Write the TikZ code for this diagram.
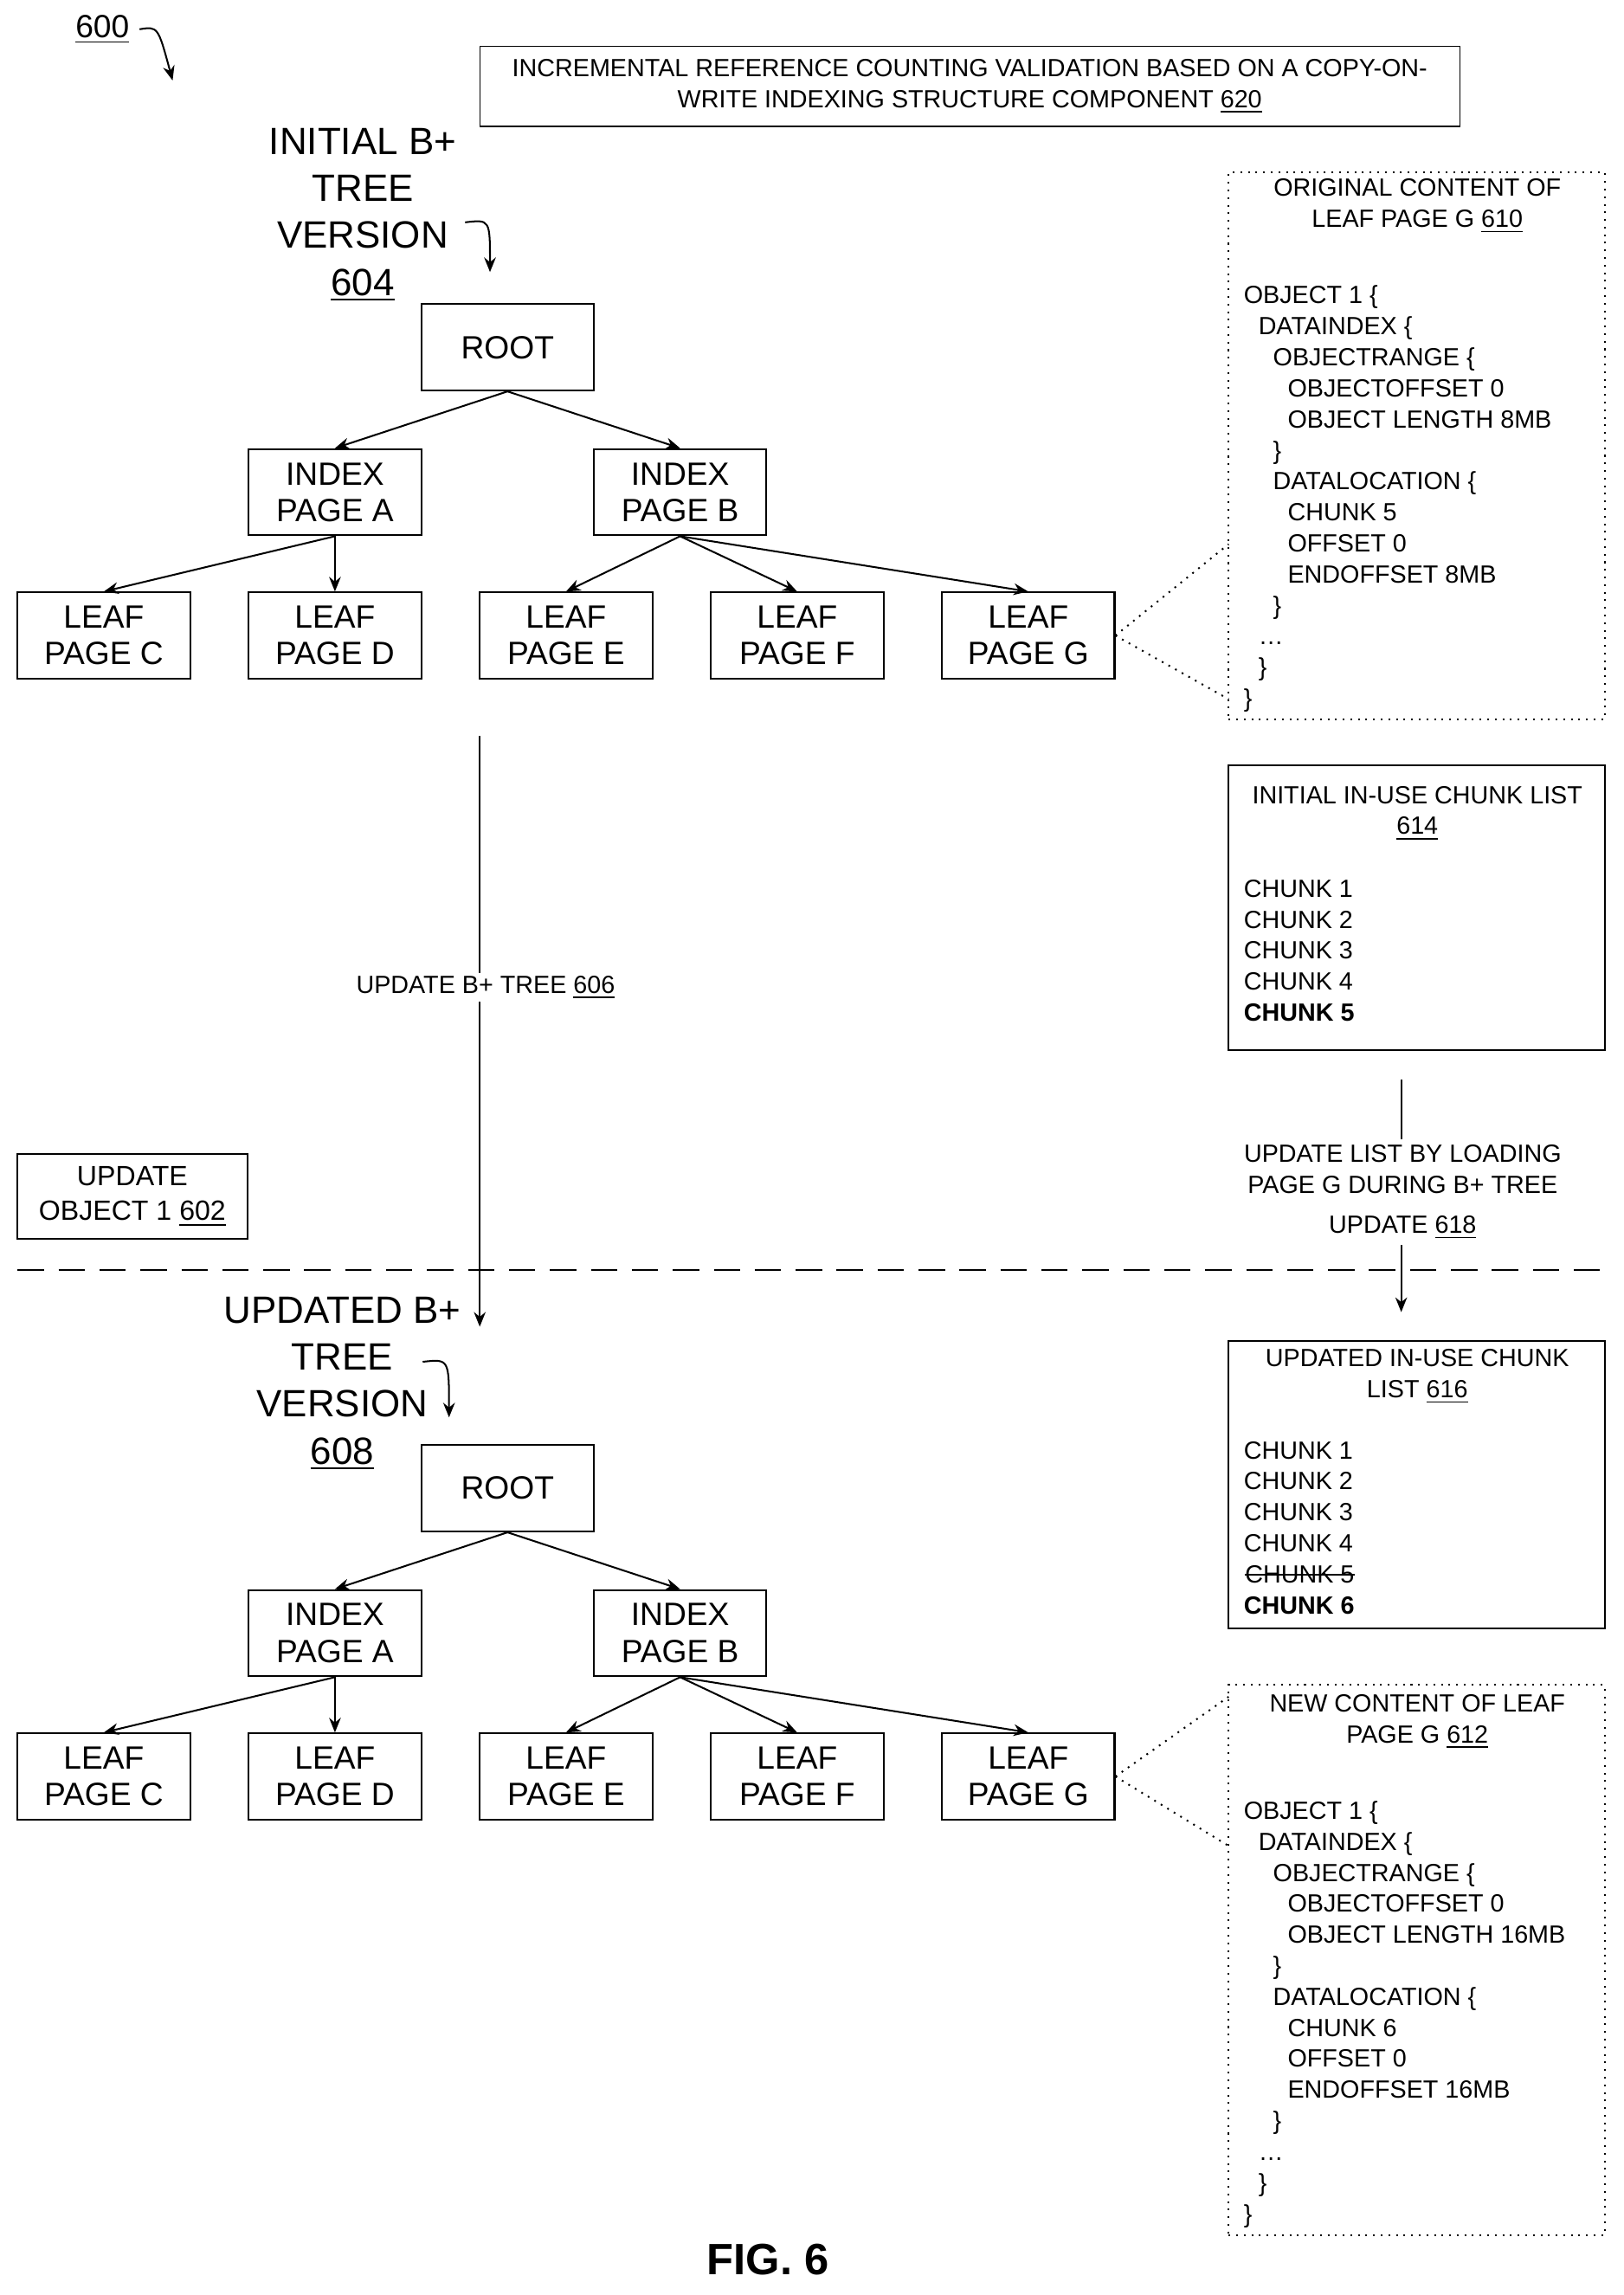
\documentclass[tikz,border=0pt]{standalone}
\usepackage{fontspec}
\setmainfont{Liberation Sans}
\usetikzlibrary{arrows.meta}
\newcommand{\mystrike}[1]{\tikz[baseline=(s.base)]{\node[inner sep=0pt](s){#1};\draw[line width=0.5pt]([yshift=0.33em]s.base west)--([yshift=0.33em]s.base east);}}
\begin{document}
\begin{tikzpicture}[x=0.5pt,y=-0.5pt,
  box/.style={draw,line width=0.6pt,minimum width=59pt,minimum height=29.5pt,inner sep=0pt,align=center,font=\fontsize{11}{12.5}\selectfont},
  sm/.style={font=\fontsize{8.5}{10.6}\selectfont},
  big/.style={font=\fontsize{13}{16}\selectfont,align=center},
  edge/.style={line width=0.6pt,-{Stealth[length=5pt,width=4pt]}},
  dot/.style={dotted,line width=0.6pt},
  txt/.style={sm,anchor=north west,align=left,inner sep=0pt}]
\useasboundingbox (0,0) rectangle (1110,1569);
% header
\node[font=\fontsize{11}{12}\selectfont] (n600) at (70,20) {\underline{600}};
\coordinate (n600e) at (118,55);
\draw[edge] (n600.east) .. controls (108,18) .. (n600e);
\node[draw,sm,align=center,minimum width=335pt,minimum height=27.5pt,inner sep=0pt] (title) at (663,59) {INCREMENTAL REFERENCE COUNTING VALIDATION BASED ON A COPY-ON-\\WRITE INDEXING STRUCTURE COMPONENT \underline{620}};
% tree 1 label
\node[big] (t1) at (248,147) {INITIAL B+\\TREE\\VERSION\\\underline{604}};
\coordinate (t1a) at (318,152); \coordinate (t1b) at (335,186);
\draw[edge] (t1a) .. controls (335,150) .. (t1b);
% tree 1
\node[box] (r1) at (347,237.5) {ROOT};
\node[box] (a1) at (229,336.5) {INDEX\\PAGE A};
\node[box] (b1) at (465,336.5) {INDEX\\PAGE B};
\node[box] (c1) at (71,434.5) {LEAF\\PAGE C};
\node[box] (d1) at (229,434.5) {LEAF\\PAGE D};
\node[box] (e1) at (387,434.5) {LEAF\\PAGE E};
\node[box] (f1) at (545,434.5) {LEAF\\PAGE F};
\node[box] (g1) at (703,434.5) {LEAF\\PAGE G};
\foreach \s/\t in {r1/a1,r1/b1,a1/c1,a1/d1,b1/e1,b1/f1,b1/g1}
  \draw[edge] (\s.south) -- (\t.north);
% box 610
\node[draw,dot,minimum width=128.5pt,minimum height=187pt,inner sep=0pt] (b610) at (968.5,305) {};
\node[sm,align=center] at (969,141) {ORIGINAL CONTENT OF\\LEAF PAGE G \underline{610}};
\node[txt] at (850,195) {OBJECT 1 \{\\
\hspace*{5pt}DATAINDEX \{\\
\hspace*{10pt}OBJECTRANGE \{\\
\hspace*{15pt}OBJECTOFFSET 0\\
\hspace*{15pt}OBJECT LENGTH 8MB\\
\hspace*{10pt}\}\\
\hspace*{10pt}DATALOCATION \{\\
\hspace*{15pt}CHUNK 5\\
\hspace*{15pt}OFFSET 0\\
\hspace*{15pt}ENDOFFSET 8MB\\
\hspace*{10pt}\}\\
\hspace*{5pt}\dots\\
\hspace*{5pt}\}\\
\}};
\coordinate (p1) at (840,372); \coordinate (p2) at (840,478);
\draw[dot] (g1.east) -- (p1); \draw[dot] (g1.east) -- (p2);
% update arrow
\coordinate (u1) at (328,503); \coordinate (u2) at (328,907);
\draw[edge] (u1) -- (u2);
\node[sm,fill=white,inner sep=1pt] (ul) at (332,675) {UPDATE B+ TREE \underline{606}};
% box 614
\node[draw,line width=0.6pt,minimum width=128.5pt,minimum height=97.5pt,inner sep=0pt] (b614) at (968.5,620.5) {};
\node[sm,align=center] at (969,556) {INITIAL IN-USE CHUNK LIST\\\underline{614}};
\node[txt] at (850,601) {CHUNK 1\\CHUNK 2\\CHUNK 3\\CHUNK 4\\\textbf{CHUNK 5}};
% update list arrow
\coordinate (l1) at (958,738); \coordinate (l2) at (958,897);
\draw[edge] (l1) -- (l2);
\node[sm,fill=white,align=center,inner sep=2pt] at (959,815) {UPDATE LIST BY LOADING\\PAGE G DURING B+ TREE\\[3pt]UPDATE \underline{618}};
% update object box
\node[draw,line width=0.6pt,align=center,minimum width=78.5pt,minimum height=29pt,inner sep=0pt,font=\fontsize{9.5}{12}\selectfont] (uo) at (90.5,818) {UPDATE\\OBJECT 1 \underline{602}};
% dashed separator
\coordinate (d1a) at (12,868); \coordinate (d1b) at (1097,868);
\draw[line width=0.6pt,dash pattern=on 9pt off 5pt] (d1a) -- (d1b);
% tree 2 label
\node[big] (t2) at (234,946) {UPDATED B+\\TREE\\VERSION\\\underline{608}};
\coordinate (t2a) at (289,931); \coordinate (t2b) at (307,969);
\draw[edge] (t2a) .. controls (307,929) .. (t2b);
% tree 2
\node[box] (r2) at (347,1017.5) {ROOT};
\node[box] (a2) at (229,1116.5) {INDEX\\PAGE A};
\node[box] (b2) at (465,1116.5) {INDEX\\PAGE B};
\node[box] (c2) at (71,1214.5) {LEAF\\PAGE C};
\node[box] (d2) at (229,1214.5) {LEAF\\PAGE D};
\node[box] (e2) at (387,1214.5) {LEAF\\PAGE E};
\node[box] (f2) at (545,1214.5) {LEAF\\PAGE F};
\node[box] (g2) at (703,1214.5) {LEAF\\PAGE G};
\foreach \s/\t in {r2/a2,r2/b2,a2/c2,a2/d2,b2/e2,b2/f2,b2/g2}
  \draw[edge] (\s.south) -- (\t.north);
% box 616
\node[draw,line width=0.6pt,minimum width=128.5pt,minimum height=98pt,inner sep=0pt] (b616) at (968.5,1015) {};
\node[sm,align=center] at (969,941) {UPDATED IN-USE CHUNK\\LIST \underline{616}};
\node[txt] at (850,985) {CHUNK 1\\CHUNK 2\\CHUNK 3\\CHUNK 4\\\mystrike{CHUNK 5}\\\textbf{CHUNK 6}};
% box 612
\node[draw,dot,minimum width=128.5pt,minimum height=188pt,inner sep=0pt] (b612) at (968.5,1340) {};
\node[sm,align=center] at (969,1177) {NEW CONTENT OF LEAF\\PAGE G \underline{612}};
\node[txt] at (850,1231) {OBJECT 1 \{\\
\hspace*{5pt}DATAINDEX \{\\
\hspace*{10pt}OBJECTRANGE \{\\
\hspace*{15pt}OBJECTOFFSET 0\\
\hspace*{15pt}OBJECT LENGTH 16MB\\
\hspace*{10pt}\}\\
\hspace*{10pt}DATALOCATION \{\\
\hspace*{15pt}CHUNK 6\\
\hspace*{15pt}OFFSET 0\\
\hspace*{15pt}ENDOFFSET 16MB\\
\hspace*{10pt}\}\\
\hspace*{5pt}\dots\\
\hspace*{5pt}\}\\
\}};
\coordinate (q1) at (840,1160); \coordinate (q2) at (840,1262);
\draw[dot] (g2.east) -- (q1); \draw[dot] (g2.east) -- (q2);
% fig
\node[font=\fontsize{15}{18}\bfseries] (fig) at (525,1545) {FIG. 6};
\end{tikzpicture}
\end{document}
